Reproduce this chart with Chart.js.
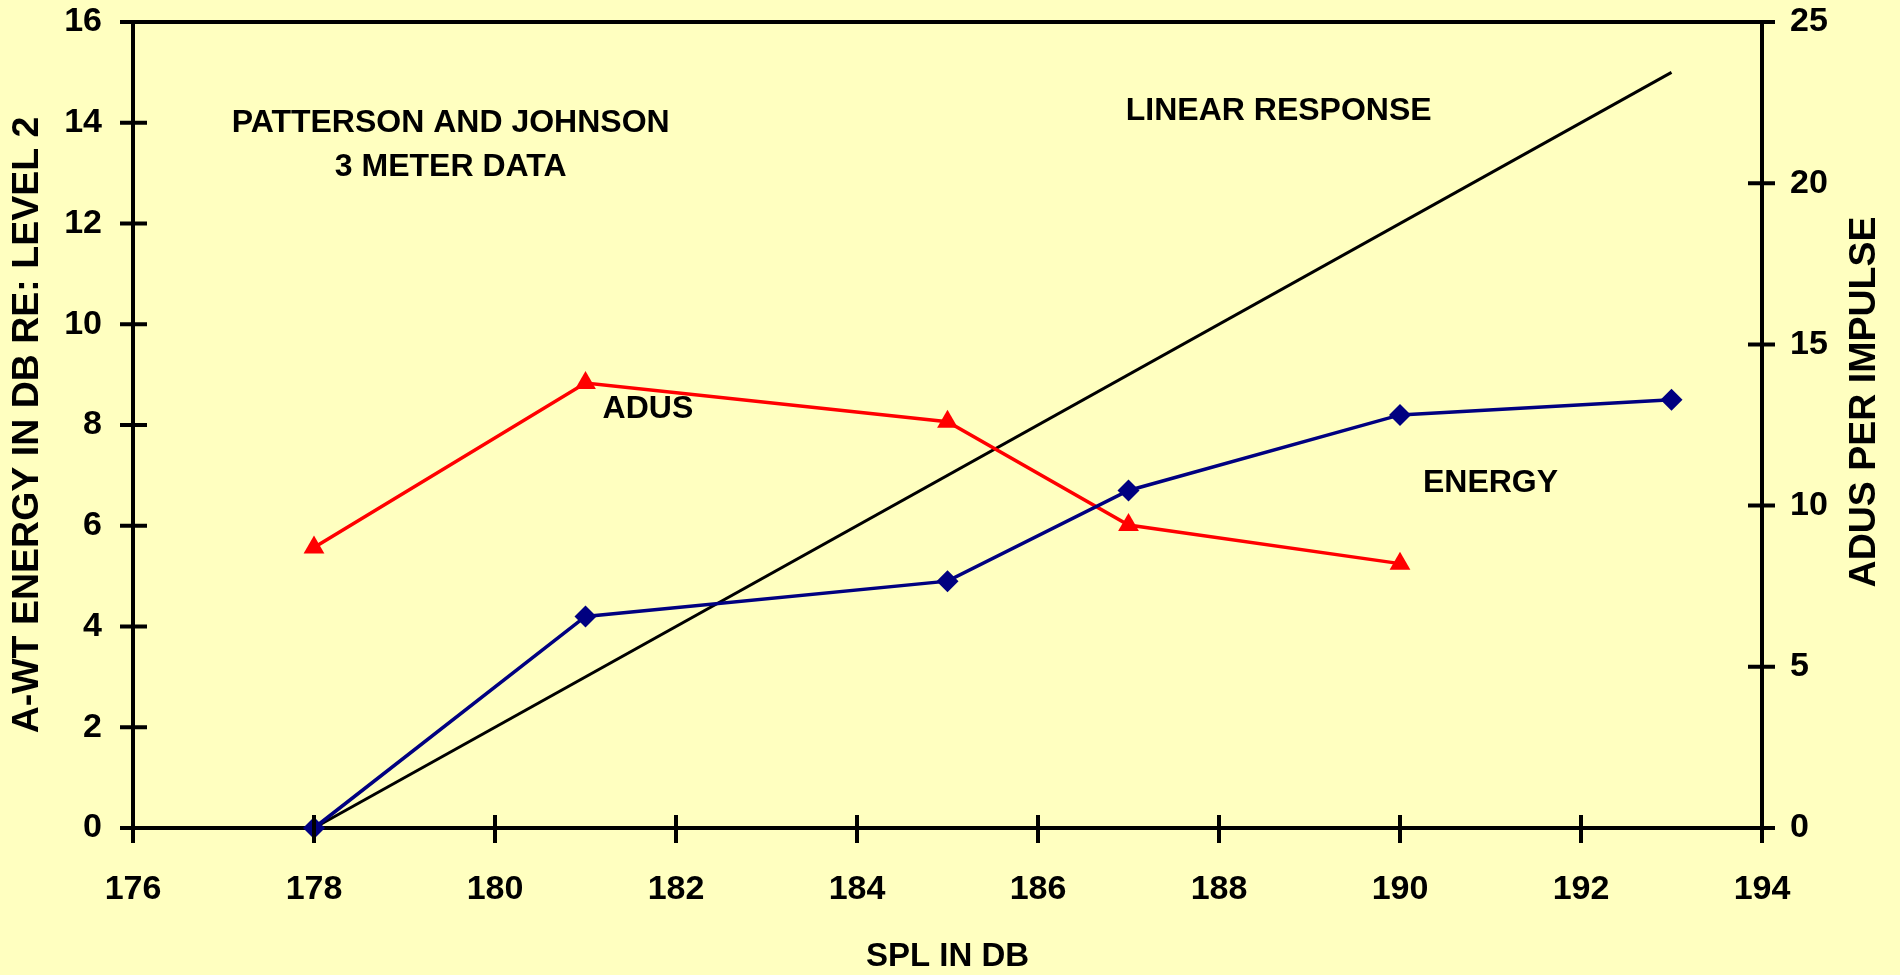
<!DOCTYPE html>
<html>
<head>
<meta charset="utf-8">
<title>SPL vs A-WT energy and ADUS</title>
<script src="https://cdn.jsdelivr.net/npm/chart.js@4/dist/chart.umd.min.js"></script>
<style>
    html, body { margin: 0; padding: 0; background: #FFFFC0; overflow: hidden; }
    #wrap { width: 1900px; height: 975px; position: relative; }
</style>
</head>
<body>
<div id="wrap"><canvas id="splChart"></canvas></div>
<script>
        // data
        const splEnergy = [178, 181, 185, 187, 190, 193];
        const energyDb = [0, 4.2, 4.9, 6.7, 8.2, 8.5];

        const splAdus = [178, 181, 185, 187, 190];
        const adusPerImpulse = [8.7, 13.8, 12.6, 9.4, 8.2];

        const splLinear = [178, 193];
        const linearDb = [0, 15];

        const xTicks = [176, 178, 180, 182, 184, 186, 188, 190, 192, 194];
        const yLeftTicks = [0, 2, 4, 6, 8, 10, 12, 14, 16];
        const yRightTicks = [0, 5, 10, 15, 20, 25];

        // text notes placed in data units (x = SPL, y = left axis)
        const noteText = ['PATTERSON AND JOHNSON', '3 METER DATA', 'LINEAR RESPONSE', 'ADUS', 'ENERGY'];
        const noteX = [179.51, 179.51, 188.66, 181.69, 191.0];
        const noteY = [13.99, 13.11, 14.22, 8.31, 6.84];

        const FONT = '"Liberation Sans", Arial, sans-serif';

        function toPoints(xs, ys) {
            return xs.map((x, i) => ({ x: x, y: ys[i] }));
        }

        // keep the plot box where the original has it
        function pinBox(scale, size) {
            if (scale.isHorizontal()) scale.height = size;
            else scale.width = size;
            scale.paddingTop = 0;
            scale.paddingBottom = 0;
            scale.paddingLeft = 0;
            scale.paddingRight = 0;
        }

        // cross-shaped ticks, top frame line, notes and right title
        const decorPlugin = {
            id: 'decor',
            afterDraw(chart) {
                const ctx = chart.ctx;
                const area = chart.chartArea;
                const sx = chart.scales.x;
                const sy = chart.scales.y;
                const sy1 = chart.scales.y1;
                ctx.save();
                ctx.strokeStyle = '#000';
                ctx.lineWidth = 4;
                ctx.lineCap = 'butt';

                // top frame
                ctx.beginPath();
                ctx.moveTo(area.left, area.top);
                ctx.lineTo(area.right, area.top);
                ctx.stroke();

                ctx.beginPath();
                sx.ticks.forEach((t, i) => {
                    const px = sx.getPixelForTick(i);
                    ctx.moveTo(px, area.bottom - 13);
                    ctx.lineTo(px, area.bottom + 15);
                });
                sy.ticks.forEach((t, i) => {
                    const py = sy.getPixelForTick(i);
                    ctx.moveTo(area.left - 13, py);
                    ctx.lineTo(area.left + 14, py);
                });
                sy1.ticks.forEach((t, i) => {
                    const py = sy1.getPixelForTick(i);
                    ctx.moveTo(area.right - 14, py);
                    ctx.lineTo(area.right + 13, py);
                });
                ctx.stroke();

                ctx.fillStyle = '#000';
                ctx.font = 'bold 32px ' + FONT;
                ctx.textAlign = 'center';
                ctx.textBaseline = 'middle';
                noteText.forEach((txt, i) => {
                    ctx.fillText(txt, sx.getPixelForValue(noteX[i]), sy.getPixelForValue(noteY[i]));
                });

                // right axis title reads bottom to top
                ctx.font = 'bold 37.5px ' + FONT;
                ctx.translate(1865, (area.top + area.bottom) / 2 - 23);
                ctx.rotate(-Math.PI / 2);
                ctx.fillText('ADUS PER IMPULSE', 0, 0);
                ctx.restore();
            }
        };

        const tickFont = { family: FONT, size: 34, weight: 'bold' };
        const titleFont = { family: FONT, size: 33, weight: 'bold', lineHeight: 1 };
        const sideTitleFont = { family: FONT, size: 37.5, weight: 'bold', lineHeight: 1 };

        new Chart(document.getElementById('splChart'), {
            type: 'line',
            data: {
                datasets: [{
                    label: 'ENERGY',
                    data: toPoints(splEnergy, energyDb),
                    yAxisID: 'y',
                    borderColor: '#000080',
                    backgroundColor: '#000080',
                    borderWidth: 3.5,
                    pointStyle: 'rectRot',
                    pointRadius: 11,
                    pointBorderWidth: 0,
                    tension: 0,
                    clip: false
                }, {
                    label: 'ADUS',
                    data: toPoints(splAdus, adusPerImpulse),
                    yAxisID: 'y1',
                    borderColor: '#FF0000',
                    backgroundColor: '#FF0000',
                    borderWidth: 3.5,
                    pointStyle: 'triangle',
                    pointRadius: 12,
                    pointBorderWidth: 0,
                    tension: 0,
                    clip: false
                }, {
                    label: 'LINEAR RESPONSE',
                    data: toPoints(splLinear, linearDb),
                    yAxisID: 'y',
                    borderColor: '#000000',
                    borderWidth: 3,
                    pointRadius: 0,
                    tension: 0,
                    clip: false
                }]
            },
            options: {
                responsive: true,
                maintainAspectRatio: false,
                animation: false,
                layout: { padding: { top: 22, left: 0, right: 0, bottom: 0 } },
                plugins: {
                    legend: { display: false },
                    tooltip: { enabled: false }
                },
                scales: {
                    x: {
                        type: 'linear',
                        position: 'bottom',
                        min: xTicks[0],
                        max: xTicks[xTicks.length - 1],
                        afterBuildTicks: (scale) => { scale.ticks = xTicks.map(v => ({ value: v })); },
                        afterFit: (scale) => pinBox(scale, 147),
                        ticks: { font: tickFont, color: '#000', padding: 41, autoSkip: false, maxRotation: 0 },
                        grid: { display: false, drawTicks: false },
                        border: { display: true, color: '#000', width: 4 },
                        title: { display: true, text: 'SPL IN DB', color: '#000', font: titleFont, padding: { top: 0, bottom: 2 } }
                    },
                    y: {
                        type: 'linear',
                        position: 'left',
                        min: yLeftTicks[0],
                        max: yLeftTicks[yLeftTicks.length - 1],
                        afterBuildTicks: (scale) => { scale.ticks = yLeftTicks.map(v => ({ value: v })); },
                        afterFit: (scale) => pinBox(scale, 133),
                        ticks: { font: tickFont, color: '#000', padding: 31 },
                        grid: { display: false, drawTicks: false },
                        border: { display: true, color: '#000', width: 4 },
                        title: { display: true, text: 'A-WT ENERGY IN DB RE: LEVEL 2', color: '#000', font: sideTitleFont, padding: { top: 9, bottom: 0 } }
                    },
                    y1: {
                        type: 'linear',
                        position: 'right',
                        min: yRightTicks[0],
                        max: yRightTicks[yRightTicks.length - 1],
                        afterBuildTicks: (scale) => { scale.ticks = yRightTicks.map(v => ({ value: v })); },
                        afterFit: (scale) => pinBox(scale, 138),
                        ticks: { font: tickFont, color: '#000', padding: 28 },
                        grid: { display: false, drawTicks: false },
                        border: { display: true, color: '#000', width: 4 }
                    }
                }
            },
            plugins: [decorPlugin]
        });
</script>
</body>
</html>
